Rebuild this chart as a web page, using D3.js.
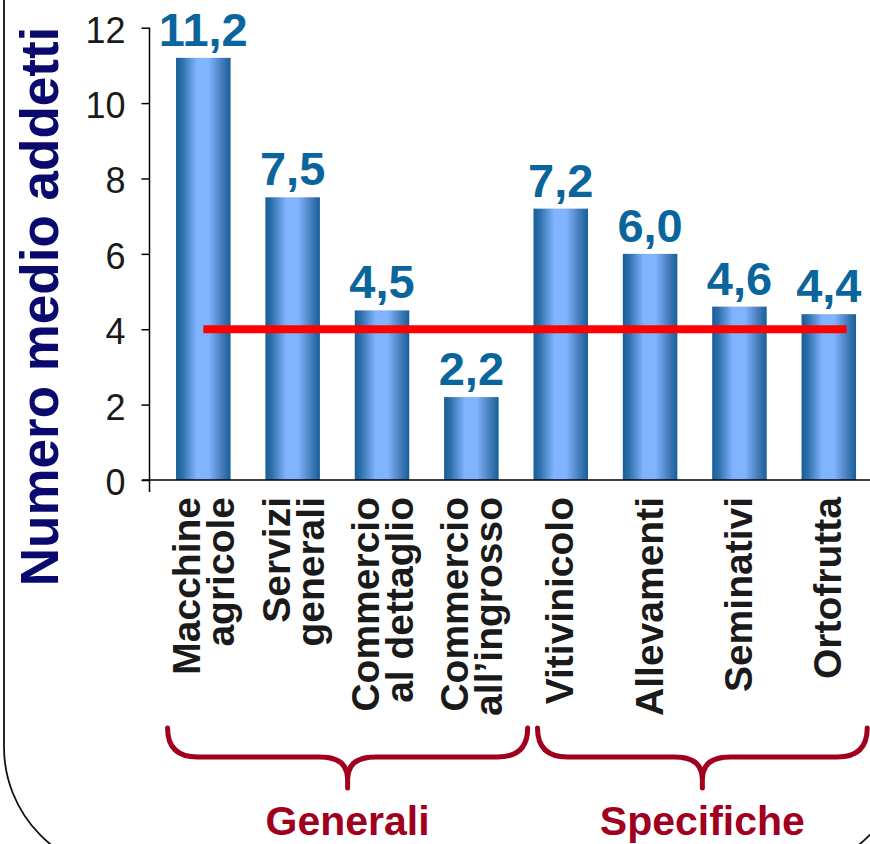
<!DOCTYPE html>
<html>
<head>
<meta charset="utf-8">
<script src="https://cdn.jsdelivr.net/npm/d3@7"></script>
<style>
  html, body { margin: 0; padding: 0; background: #fff; }
  svg { display: block; }
  text { font-family: "Liberation Sans", Arial, Helvetica, sans-serif; }
</style>
</head>
<body>
<svg id="chart" width="870" height="844"></svg>
<script>
// ---- data ----
const categories = [
  ["Macchine", "agricole"],
  ["Servizi", "generali"],
  ["Commercio", "al dettaglio"],
  ["Commercio", "all\u2019ingrosso"],
  ["Vitivinicolo"],
  ["Allevamenti"],
  ["Seminativi"],
  ["Ortofrutta"]
];
const values = [11.2, 7.5, 4.5, 2.2, 7.2, 6.0, 4.6, 4.4];
const valueLabels = ["11,2", "7,5", "4,5", "2,2", "7,2", "6,0", "4,6", "4,4"];
const yTicks = [0, 2, 4, 6, 8, 10, 12];
const averageValue = 4;
const groups = [
  { label: "Generali", first: 0, last: 3 },
  { label: "Specifiche", first: 4, last: 7 }
];
const yTitle = "Numero medio addetti";

// ---- drawing ----
const svg = d3.select("#chart");
const keys = categories.map((d, i) => i);

const x = d3.scalePoint().domain(keys).range([203.3, 828.8]);
const step = x.step();
const barW = step * 0.61;
const y = d3.scaleLinear().domain([0, 12]).range([480, 27.7]);

// rounded frame
svg.append("rect")
  .attr("x", 4).attr("y", -200)
  .attr("width", 902).attr("height", 1072)
  .attr("rx", 125).attr("ry", 125)
  .attr("fill", "none").attr("stroke", "#111").attr("stroke-width", 1.8);

// gradient
const defs = svg.append("defs");
const grad = defs.append("linearGradient").attr("id", "barGrad")
  .attr("x1", "0%").attr("x2", "100%").attr("y1", "0%").attr("y2", "0%");
[[0, "#175e96"], [0.12, "#2f70ac"], [0.38, "#80b4ff"], [0.6, "#80b4ff"],
 [0.82, "#4b80c0"], [1, "#15609a"]].forEach(([o, c]) =>
  grad.append("stop").attr("offset", o).attr("stop-color", c));

// bars
svg.append("g").selectAll("rect").data(values).join("rect")
  .attr("x", (d, i) => x(i) - barW / 2)
  .attr("width", barW)
  .attr("y", d => y(d))
  .attr("height", d => y(0) - y(d))
  .attr("fill", "url(#barGrad)");

// value labels
svg.append("g").selectAll("text").data(values).join("text")
  .attr("x", (d, i) => x(i))
  .attr("y", d => y(d) - 12)
  .attr("text-anchor", "middle")
  .attr("font-size", 47).attr("font-weight", "bold")
  .attr("fill", "#0b659d")
  .text((d, i) => valueLabels[i]);

// axes
const yAxis = d3.axisLeft(y).tickValues(yTicks).tickSize(8).tickSizeOuter(0).tickPadding(16);
const gy = svg.append("g").attr("transform", "translate(149.5,0)").call(yAxis);
gy.select(".domain").remove();
gy.selectAll(".tick line").attr("stroke", "#000").attr("stroke-width", 1.5);
gy.selectAll(".tick text")
  .attr("font-size", 36).attr("fill", "#1a1a1a")
  .attr("font-family", "'Liberation Sans', Arial, Helvetica, sans-serif")
  .attr("dy", "0.4em");
svg.append("line")
  .attr("x1", 149.5).attr("x2", 149.5)
  .attr("y1", y(12)).attr("y2", y(0) + 12)
  .attr("stroke", "#000").attr("stroke-width", 1.5);
svg.append("line")
  .attr("x1", 142).attr("x2", 870)
  .attr("y1", y(0)).attr("y2", y(0))
  .attr("stroke", "#000").attr("stroke-width", 1.5);

// average line
svg.append("line")
  .attr("x1", x(0)).attr("x2", x(keys.length - 1) + step * 0.2)
  .attr("y1", y(averageValue)).attr("y2", y(averageValue))
  .attr("stroke", "#ff0000").attr("stroke-width", 8);

// category labels
const catG = svg.append("g");
categories.forEach((lines, i) => {
  const c = x(i);
  const t = catG.append("text")
    .attr("transform", `translate(${c},497) rotate(-90)`)
    .attr("text-anchor", "end")
    .attr("font-size", 39).attr("font-weight", "bold")
    .attr("fill", "#1a1a1a");
  const offs = lines.length === 1 ? [12.5] : [-3, 31];
  lines.forEach((ln, j) => {
    t.append("tspan").attr("x", 0).attr("y", offs[j]).text(ln);
  });
});

// y title
svg.append("text")
  .attr("transform", "translate(58,306.5) rotate(-90)")
  .attr("text-anchor", "middle")
  .attr("font-size", 53).attr("font-weight", "bold")
  .attr("fill", "#0a0a6e")
  .text(yTitle);

// braces
const braceColor = "#a0001e";
const extL = [step * 0.4, step * 0.26];
const extR = [step * 0.63, step * 0.43];
groups.forEach((g, gi) => {
  const x0 = x(g.first) - extL[gi];
  const x1 = x(g.last) + extR[gi];
  const tip = (x0 + x1) / 2;
  const yTop = 728, yMid = 757, yTip = 788, r = 30;
  const p = d3.path();
  p.moveTo(x0, yTop);
  p.quadraticCurveTo(x0, yMid, x0 + r, yMid);
  p.lineTo(tip - 28, yMid);
  p.quadraticCurveTo(tip, yMid, tip, yMid + 22);
  p.lineTo(tip, yTip);
  p.moveTo(tip, yMid + 22);
  p.quadraticCurveTo(tip, yMid, tip + 28, yMid);
  p.lineTo(x1 - r, yMid);
  p.quadraticCurveTo(x1, yMid, x1, yTop);
  svg.append("path").attr("d", p.toString())
    .attr("fill", "none").attr("stroke", braceColor)
    .attr("stroke-width", 5).attr("stroke-linecap", "round").attr("stroke-linejoin", "round");
  svg.append("text")
    .attr("x", tip).attr("y", 835)
    .attr("text-anchor", "middle")
    .attr("font-size", 41).attr("font-weight", "bold")
    .attr("fill", braceColor)
    .text(g.label);
});
</script>
</body>
</html>
